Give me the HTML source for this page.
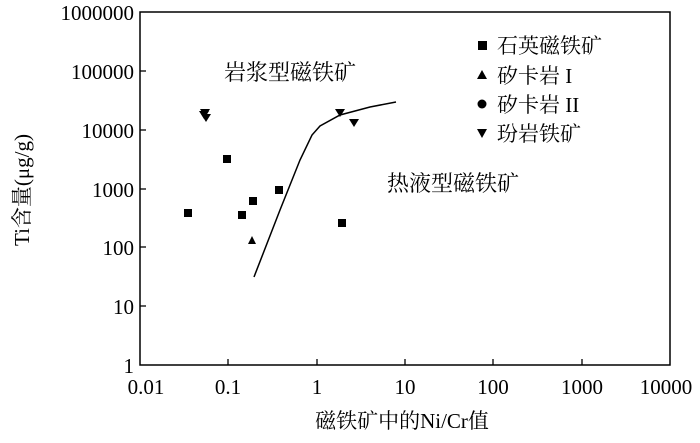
<!DOCTYPE html>
<html><head><meta charset="utf-8"><style>
body{margin:0;background:#fff}
text{font-family:"Liberation Serif","Noto Serif CJK SC",serif;fill:#000}
</style></head><body>
<svg width="700" height="438" viewBox="0 0 700 438" xmlns="http://www.w3.org/2000/svg">
<rect x="140" y="12" width="530" height="353" fill="none" stroke="#000" stroke-width="1.5"/>
<g stroke="#000" stroke-width="1.3">
<line x1="140" y1="71" x2="146" y2="71"/><line x1="140" y1="130" x2="146" y2="130"/><line x1="140" y1="189" x2="146" y2="189"/><line x1="140" y1="247" x2="146" y2="247"/><line x1="140" y1="306" x2="146" y2="306"/>
<line x1="228" y1="365" x2="228" y2="359"/><line x1="317" y1="365" x2="317" y2="359"/><line x1="405" y1="365" x2="405" y2="359"/><line x1="493" y1="365" x2="493" y2="359"/><line x1="582" y1="365" x2="582" y2="359"/>
</g>
<g font-size="21" text-anchor="end">
<text x="134" y="20">1000000</text><text x="134" y="79">100000</text><text x="134" y="138">10000</text><text x="134" y="197">1000</text><text x="134" y="255">100</text><text x="134" y="314">10</text><text x="134" y="373">1</text>
</g>
<g font-size="21" text-anchor="middle">
<text x="146" y="394">0.01</text><text x="228" y="394">0.1</text><text x="317" y="394">1</text><text x="405" y="394">10</text><text x="493" y="394">100</text><text x="582" y="394">1000</text><text x="666" y="394">10000</text>
</g>
<text x="402" y="428" font-size="21" text-anchor="middle">磁铁矿中的Ni/Cr值</text>
<text transform="translate(29,190) rotate(-90)" font-size="21" text-anchor="middle">Ti含量(μg/g)</text>
<text x="290" y="80" font-size="22" text-anchor="middle">岩浆型磁铁矿</text>
<text x="453" y="191" font-size="22" text-anchor="middle">热液型磁铁矿</text>
<polyline points="254,277 280,210 300,160 312,135 320,126 340,115 370,107 396,102" fill="none" stroke="#000" stroke-width="1.5"/>
<g fill="#000">
<rect x="184" y="209" width="8" height="8"/><rect x="223" y="155" width="8" height="8"/><rect x="238" y="211" width="8" height="8"/><rect x="249" y="197" width="8" height="8"/><rect x="275" y="186" width="8" height="8"/><rect x="338" y="219" width="8" height="8"/>
<polygon points="252,236 256,244 248,244"/>
<polygon points="200,109 210,109 205,117"/><polygon points="201,114 211,114 206,122"/><polygon points="199,111 209,111 204,119"/><polygon points="335,109 345,109 340,117"/><polygon points="349,119 359,119 354,127"/>
<rect x="478" y="41" width="9" height="9"/>
<polygon points="482,70 487,79 477,79"/>
<circle cx="482" cy="104" r="4.5"/>
<polygon points="477,129 487,129 482,138"/>
</g>
<g font-size="21">
<text x="497" y="53">石英磁铁矿</text><text x="497" y="83">矽卡岩 I</text><text x="497" y="112">矽卡岩 II</text><text x="497" y="141">玢岩铁矿</text>
</g>
</svg>
</body></html>
